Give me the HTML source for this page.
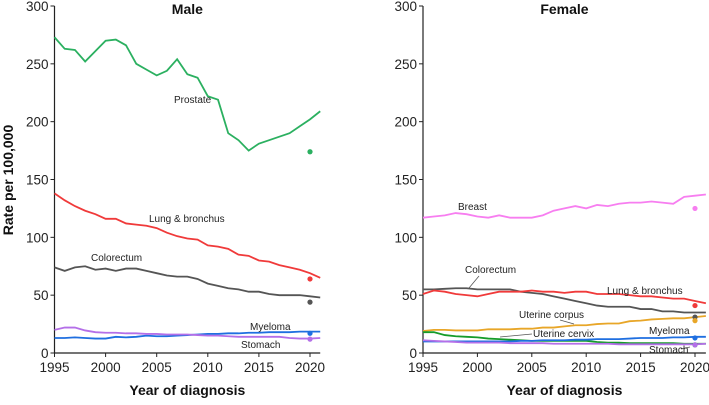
<!DOCTYPE html>
<html><head><meta charset="utf-8"><style>
body{margin:0;background:#fff}
svg{font-family:"Liberation Sans",Arial,sans-serif}
</style></head><body>
<svg id="c" width="709" height="400"></svg>
<script>
const years=[];for(let y=1995;y<=2021;y++)years.push(y);
const yTicks=[0,50,100,150,200,250,300];
const xTicks=[1995,2000,2005,2010,2015,2020];
const maleProstate=[273,263,262,252,261,270,271,266,250,245,240,244,254,241,238,222,219,190,184,175,181,184,187,190,196,202,209];
const maleLung=[138,132,127,123,120,116,116,112,111,110,108,104,101,99,98,93,92,90,85,84,80,79,76,74,72,69,65];
const maleColorectum=[74,71,74,75,72,73,71,73,73,71,69,67,66,66,64,60,58,56,55,53,53,51,50,50,50,49,48];
const maleMyeloma=[13,13,13.5,13,12.5,12.5,14,13.5,14,15,14.5,14.5,15,15.5,16,16.5,16.5,17,17,17.5,17.5,18,18,18,18.5,18.5,18.5];
const maleStomach=[20,22,22,19.5,18,17.5,17.5,17,17,16.5,16.5,16,16,16,15.5,15,15,14.5,14,14,14,14,14,13,12.5,12.5,13];
const femaleBreast=[117,118,119,121,120,118,117,119,117,117,117,119,123,125,127,125,128,127,129,130,130,131,130,129,135,136,137];
const femaleColorectum=[55,55,55.5,56,56,55,55,55,55,53,52,51,49,47,45,43,41,40,40,40,38,38,36,36,35,35,35];
const femaleLung=[51,54,53,51,50,49,51,53,53,53,54,53,53,52,53,53,51,51,51,50,49,49,48,47,47,45,43];
const femaleUterineCorpus=[19,20,20,19.5,19.5,19.5,20.5,20.5,20.5,21,21,22,22,23,24,24,25,25.5,25.5,27.5,28,29,29.5,30,30,31,32];
const femaleUterineCervix=[18,18,15.5,14.5,14,13.5,12.5,12,11.5,11,10.5,10.5,10.5,10.5,10.5,10.5,9.5,9,9,8.5,8.5,8.5,8.5,8.5,8,8,8];
const femaleMyeloma=[10,10,10,10,10,10,10,10,10,10.5,10.5,11,11,11,11.5,11.5,12,12,12,12.5,13,13,13,13.5,13.5,14,14];
const femaleStomach=[11,10.5,10,9.5,9,9,9,9,8.5,8.5,8.5,8.5,8,8,8,8,8,8,7.5,7.5,7.5,7.5,7.5,7.5,7.5,7.5,8];
const dotYear=2020;
const maleDots=[174,64,44,17,12];
const femaleDots=[125,31,41,28,7,13,7];

const NS="http://www.w3.org/2000/svg";
const svg=document.getElementById('c');
function el(t,a,p){const e=document.createElementNS(NS,t);for(const k in a)e.setAttribute(k,a[k]);(p||svg).appendChild(e);return e;}
const Y=v=>353-v*(347/300);
function panel(x0,x2020,name,title,series,dots,colors,labels){
  const X=yr=>x0+(yr-1995)*(x2020-x0)/25;
  const g=el('g',{});
  
  
  const ax=el('path',{d:`M${x0} 6V353H${X(2021)}`,stroke:'#222',fill:'none','stroke-width':1.2},g);
  
  yTicks.forEach(v=>{
    el('line',{x1:x0-4,x2:x0,y1:Y(v),y2:Y(v),stroke:'#222'},g);
    const t=el('text',{x:x0-6,y:Y(v)+5,'text-anchor':'end','font-size':13.5,fill:'#222'},g);t.textContent=v;
    
  });
  xTicks.forEach(v=>{
    el('line',{x1:X(v),x2:X(v),y1:353,y2:357},g);
    const t=el('text',{x:X(v),y:372,'text-anchor':'middle','font-size':13.5,fill:'#222'},g);t.textContent=v;
    
  });
  g.querySelectorAll('line').forEach(l=>l.setAttribute('stroke','#222'));
  const tt=el('text',{x:(x0+X(2021))/2,y:14,'text-anchor':'middle','font-size':14,'font-weight':'bold',fill:'#111'},g);tt.textContent=title;
  
  const xt=el('text',{x:(x0+X(2021))/2,y:395,'text-anchor':'middle','font-size':14,'font-weight':'bold',fill:'#111'},g);xt.textContent='Year of diagnosis';
  
  series.forEach((s,i)=>{
    const p=el('polyline',{points:s.map((v,j)=>X(years[j])+','+Y(v)).join(' '),fill:'none',stroke:colors[i],'stroke-width':1.8},g);
    
  });
  dots.forEach((v,i)=>{
    const c=el('circle',{cx:X(dotYear),cy:Y(v),r:2.6,fill:colors[i]},g);
    
  });
  labels.forEach(L=>{
    if(L[3]){el('line',{x1:L[3][0],y1:L[3][1],x2:L[3][2],y2:L[3][3],stroke:'#555','stroke-width':0.8},g);}
    const t=el('text',{x:L[1],y:L[2],'font-size':10,fill:'#222'},g);t.textContent=L[0];
    
  });
}
panel(54.5,310,'male','Male',[maleProstate,maleLung,maleColorectum,maleMyeloma,maleStomach],maleDots,
 ['#2bb060','#f03a3a','#555','#1f6fe0','#b46fe8'],
 [['Prostate',174,103],['Lung & bronchus',149,222],['Colorectum',91,261],['Myeloma',250,330],['Stomach',241,348]]);
panel(423,695,'female','Female',[femaleBreast,femaleColorectum,femaleLung,femaleUterineCorpus,femaleUterineCervix,femaleMyeloma,femaleStomach],femaleDots,
 ['#f77ef0','#555','#f03a3a','#e8a628','#169c2a','#1f6fe0','#b46fe8'],
 [['Breast',458,210],['Colorectum',465,273,[479,276,469,288]],['Lung & bronchus',607,294],['Uterine corpus',519,318,[560,320,574,324]],['Uterine cervix',533,337,[532,334,500,337]],['Myeloma',649,334],['Stomach',649,353,[681,349,690,347]]]);
const yt=el('text',{x:0,y:0,transform:'translate(13,180) rotate(-90)','text-anchor':'middle','font-size':14,'font-weight':'bold',fill:'#111'});
yt.textContent='Rate per 100,000';


</script>
</body></html>
